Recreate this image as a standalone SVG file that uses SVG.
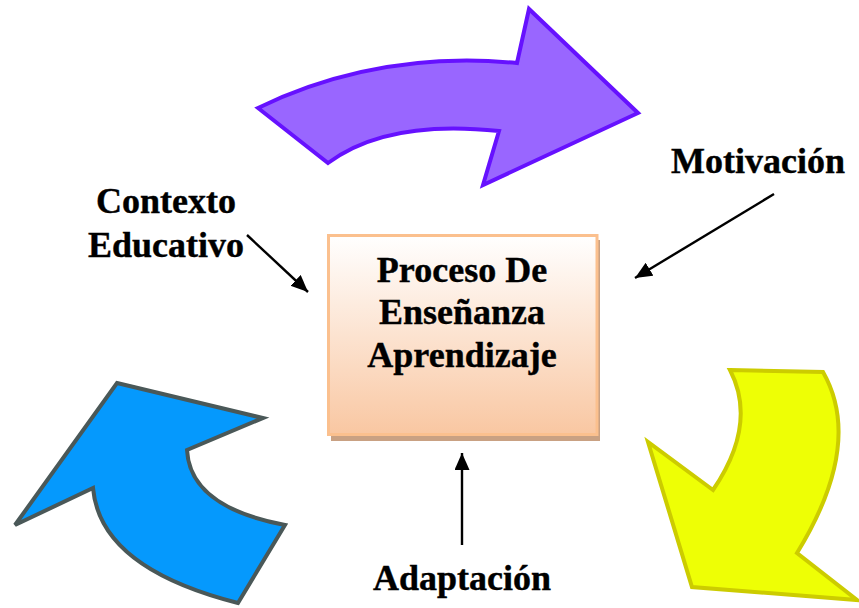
<svg xmlns="http://www.w3.org/2000/svg" width="859" height="608" viewBox="0 0 859 608">
  <defs>
    <linearGradient id="boxGrad" x1="0" y1="0" x2="0" y2="1">
      <stop offset="0" stop-color="#FFFFFF"/>
      <stop offset="1" stop-color="#F9C7A2"/>
    </linearGradient>
    <marker id="ah" markerUnits="userSpaceOnUse" markerWidth="20" markerHeight="16" refX="17" refY="7.5" orient="auto">
      <path d="M0,0 L17,7.5 L0,15 z" fill="#000"/>
    </marker>
    <style>
      .lbl { font-family: "Liberation Serif", "Times New Roman", serif; font-weight: bold; font-size: 36px; fill: #000; stroke: #000; stroke-width: 0.4; text-anchor: middle; }
      .conn { stroke: #000; stroke-width: 2.4; fill: none; marker-end: url(#ah); }
    </style>
  </defs>

  <g id="arrow-purple">
    <path d="M258,108 Q378,50 517,63 L529,9 L638,113 L483,185 L499,131 Q387,119 328,163 Z" fill="#9966FF" stroke="#6611FF" stroke-width="4" stroke-linejoin="miter"/>
  </g>
  <g id="arrow-blue">
    <path d="M117,383 L263,418 L187,450 Q190,507 285,525 L238,603 Q100,568 93,488 L15,525 Z" fill="#0599FD" stroke="#4A5858" stroke-width="4"/>
  </g>
  <g id="arrow-yellow">
    <path d="M730,370 L823,372 Q864,444 797,553 L857,600 L692,587 L648,442 L713,490 Q758,424 730,370 Z" fill="#EEFF05" stroke="#CCCC00" stroke-width="4"/>
  </g>

  <g id="node-center">
    <rect x="331" y="240" width="269" height="201" fill="#C9A183"/>
    <rect x="328.5" y="235.5" width="268.5" height="199" fill="url(#boxGrad)" stroke="#FBC08E" stroke-width="3"/>
    <text class="lbl" x="462" y="282">Proceso De</text>
    <text class="lbl" x="462" y="324">Enseñanza</text>
    <text class="lbl" x="462" y="367">Aprendizaje</text>
  </g>

  <g id="node-contexto">
    <text class="lbl" x="166" y="213">Contexto</text>
    <text class="lbl" x="166" y="257">Educativo</text>
  </g>
  <g id="node-motivacion">
    <text class="lbl" x="758" y="173">Motivación</text>
  </g>
  <g id="node-adaptacion">
    <text class="lbl" x="462" y="590">Adaptación</text>
  </g>

  <g id="connectors">
    <line class="conn" x1="247" y1="235" x2="308" y2="292"/>
    <line class="conn" x1="774" y1="194" x2="635" y2="278"/>
    <line class="conn" x1="462" y1="545" x2="462" y2="453"/>
  </g>
</svg>
